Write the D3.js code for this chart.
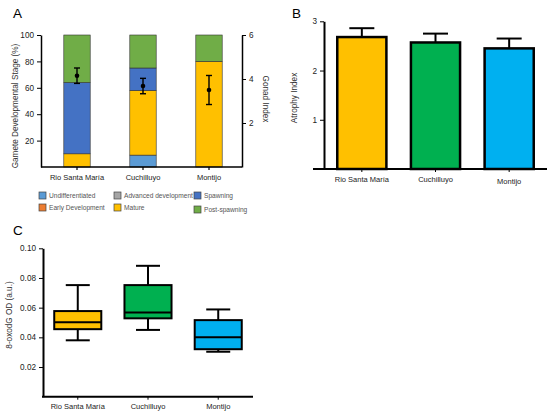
<!DOCTYPE html>
<html>
<head>
<meta charset="utf-8">
<script src="https://cdn.jsdelivr.net/npm/d3@7"></script>
<style>
  body { margin: 0; background: #fff; }
  svg { font-family: "Liberation Sans", Arial, sans-serif; }
</style>
</head>
<body>
<div id="main"></div>
<script>
// data
const sites = ["Rio Santa María", "Cuchilluyo", "Montijo"];

const stages = ["Undifferentiated", "Early Development", "Advanced development", "Mature", "Spawning", "Post-spawning"];
const stageColors = ["#5B9BD5", "#ED7D31", "#A5A5A5", "#FFC000", "#4472C4", "#70AD47"];
const undifferentiated = [0, 9, 0];
const earlyDev = [0, 0, 0];
const advancedDev = [0, 0, 0];
const mature = [10, 49, 80];
const spawning = [54, 17, 0];
const postSpawning = [36, 25, 20];

const gonadMean = [4.15, 3.68, 3.5];
const gonadErr = [0.35, 0.35, 0.66];

const atrophyMean = [2.68, 2.57, 2.45];
const atrophyErr = [0.18, 0.18, 0.2];
const siteColors = ["#FFC000", "#00B050", "#00B0F0"];

const oxoMin = [0.038, 0.045, 0.0303];
const oxoQ1 = [0.0455, 0.0528, 0.032];
const oxoMedian = [0.0501, 0.0568, 0.040];
const oxoQ3 = [0.0577, 0.0752, 0.0516];
const oxoMax = [0.0752, 0.0882, 0.0588];

const leftTicks = [20, 40, 60, 80, 100];
const gonadTicks = [2, 4, 6];
const atrophyTicks = [1, 2, 3];
const oxoTicks = [0.02, 0.04, 0.06, 0.08, 0.10];

const svg = d3.select("#main").append("svg")
  .attr("width", 550)
  .attr("height", 420);

function letter(t, x, y) {
  svg.append("text").attr("x", x).attr("y", y)
    .attr("font-size", 13.5).text(t);
}

// ---------- panel A ----------
letter("A", 13, 18);
const aX = d3.scaleBand().domain(sites).range([44, 242]).paddingInner(0.6).paddingOuter(0.3);
const aY = d3.scaleLinear().domain([0, 100]).range([167, 35]);
const aY2 = d3.scaleLinear().domain([0, 6]).range([167, 35]);

const stageValues = [undifferentiated, earlyDev, advancedDev, mature, spawning, postSpawning];
const rows = sites.map((s, i) => {
  const r = {site: s};
  stages.forEach((st, j) => r[st] = stageValues[j][i]);
  return r;
});
const stacked = d3.stack().keys(stages)(rows);

const gA = svg.append("g");
stacked.forEach((layer, j) => {
  gA.selectAll(null).data(layer).enter().append("rect")
    .filter(d => d[1] - d[0] > 0)
    .attr("x", d => aX(d.data.site))
    .attr("width", aX.bandwidth())
    .attr("y", d => aY(d[1]))
    .attr("height", d => aY(d[0]) - aY(d[1]))
    .attr("fill", stageColors[j])
    .attr("stroke", "#333")
    .attr("stroke-width", 0.6);
});

// gonad index error bars
sites.forEach((s, i) => {
  const cx = aX(s) + aX.bandwidth() / 2;
  const g = gA.append("g").attr("stroke", "#000").attr("stroke-width", 1.4);
  g.append("line").attr("x1", cx).attr("x2", cx)
    .attr("y1", aY2(gonadMean[i] + gonadErr[i])).attr("y2", aY2(gonadMean[i] - gonadErr[i]));
  [gonadMean[i] + gonadErr[i], gonadMean[i] - gonadErr[i]].forEach(v => {
    g.append("line").attr("x1", cx - 3).attr("x2", cx + 3)
      .attr("y1", aY2(v)).attr("y2", aY2(v));
  });
  gA.append("circle").attr("cx", cx).attr("cy", aY2(gonadMean[i])).attr("r", 2.3).attr("fill", "#000");
});

const aLeft = svg.append("g").attr("transform", "translate(41,0)")
  .call(d3.axisLeft(aY).tickValues(leftTicks).tickFormat(d3.format("d")).tickSize(4).tickSizeOuter(0));
const aRight = svg.append("g").attr("transform", "translate(242,0)")
  .call(d3.axisRight(aY2).tickValues(gonadTicks).tickFormat(d3.format("d")).tickSize(4).tickSizeOuter(0));
const aBottom = svg.append("g").attr("transform", "translate(0,167)")
  .call(d3.axisBottom(aX).tickSize(3).tickSizeOuter(0));
aBottom.select(".domain").remove();
aBottom.append("line").attr("x1", 41).attr("x2", 242).attr("stroke", "#000").attr("stroke-width", 1.5);
[aLeft, aRight].forEach(a => a.select(".domain").attr("stroke-width", 1.5));
aLeft.selectAll("text").attr("font-size", 8.2).attr("fill", "#222");
aRight.selectAll("text").attr("font-size", 8.2).attr("fill", "#222");
aBottom.selectAll("text").attr("font-size", 7.5).attr("fill", "#222").attr("dy", "0.9em");
aBottom.selectAll(".tick line").attr("stroke-width", 1.2);

svg.append("text").attr("transform", "translate(18,106) rotate(-90)")
  .attr("text-anchor", "middle").attr("font-size", 8.2).attr("fill", "#333")
  .text("Gamete Developmental Stage (%)");
svg.append("text").attr("transform", "translate(263,99) rotate(90)")
  .attr("text-anchor", "middle").attr("font-size", 8.2).attr("fill", "#333")
  .text("Gonad Index");

// legend
const legendPos = [[39, 192], [39, 204], [114, 192], [114, 204], [194, 192], [194, 206]];
stages.forEach((st, j) => {
  const [lx, ly] = legendPos[j];
  svg.append("rect").attr("x", lx).attr("y", ly).attr("width", 7).attr("height", 7)
    .attr("fill", stageColors[j]).attr("stroke", "#444").attr("stroke-width", 0.7);
  svg.append("text").attr("x", lx + 10).attr("y", ly + 6)
    .attr("font-size", 6.6).attr("fill", "#555").text(st);
});

// ---------- panel B ----------
letter("B", 292, 18);
const bX = d3.scaleBand().domain(sites).range([324, 547]).paddingInner(0.333).paddingOuter(0.18);
const bY = d3.scaleLinear().domain([0, 3]).range([169, 21.3]);
const gB = svg.append("g");
sites.forEach((s, i) => {
  const cx = bX(s) + bX.bandwidth() / 2;
  const top = bY(atrophyMean[i] + atrophyErr[i]);
  gB.append("line").attr("x1", cx).attr("x2", cx).attr("y1", bY(atrophyMean[i])).attr("y2", top)
    .attr("stroke", "#000").attr("stroke-width", 2);
  gB.append("line").attr("x1", cx - 12.5).attr("x2", cx + 12.5).attr("y1", top).attr("y2", top)
    .attr("stroke", "#000").attr("stroke-width", 2);
});
gB.selectAll("rect").data(sites).enter().append("rect")
  .attr("x", d => bX(d))
  .attr("width", bX.bandwidth())
  .attr("y", (d, i) => bY(atrophyMean[i]))
  .attr("height", (d, i) => bY(0) - bY(atrophyMean[i]))
  .attr("fill", (d, i) => siteColors[i])
  .attr("stroke", "#000")
  .attr("stroke-width", 2.5);

const bLeft = svg.append("g").attr("transform", "translate(324,0)")
  .call(d3.axisLeft(bY).tickValues(atrophyTicks).tickFormat(d3.format("d")).tickSize(4).tickSizeOuter(0));
const bBottom = svg.append("g").attr("transform", "translate(0,169)")
  .call(d3.axisBottom(bX).tickSize(3).tickSizeOuter(0));
bBottom.select(".domain").remove();
bBottom.append("line").attr("x1", 313).attr("x2", 547).attr("stroke", "#000").attr("stroke-width", 2);
bLeft.select(".domain").attr("stroke-width", 2);
bLeft.selectAll("text").attr("font-size", 8.2).attr("fill", "#222");
bBottom.selectAll("text").attr("font-size", 7.5).attr("fill", "#222").attr("dy", "0.9em");
bBottom.selectAll(".tick").filter(d => d === "Montijo").select("text").attr("dy", "1.2em");
svg.append("text").attr("transform", "translate(297,98) rotate(-90)")
  .attr("text-anchor", "middle").attr("font-size", 8.2).attr("fill", "#333")
  .text("Atrophy Index");

// ---------- panel C ----------
letter("C", 13, 235);
const cX = d3.scaleBand().domain(sites).range([43, 253]).paddingInner(0.33).paddingOuter(0.16);
const cY = d3.scaleLinear().domain([0, 0.10]).range([396.7, 248.3]);
const gC = svg.append("g").attr("stroke", "#000").attr("stroke-width", 2);
sites.forEach((s, i) => {
  const x0 = cX(s), w = cX.bandwidth(), cx = x0 + w / 2;
  gC.append("line").attr("x1", cx).attr("x2", cx).attr("y1", cY(oxoMax[i])).attr("y2", cY(oxoMin[i]));
  [oxoMax[i], oxoMin[i]].forEach(v => {
    gC.append("line").attr("x1", cx - 12).attr("x2", cx + 12).attr("y1", cY(v)).attr("y2", cY(v));
  });
  gC.append("rect").attr("x", x0).attr("width", w)
    .attr("y", cY(oxoQ3[i])).attr("height", cY(oxoQ1[i]) - cY(oxoQ3[i]))
    .attr("fill", siteColors[i]);
  gC.append("line").attr("x1", x0).attr("x2", x0 + w).attr("y1", cY(oxoMedian[i])).attr("y2", cY(oxoMedian[i]));
});
const cLeft = svg.append("g").attr("transform", "translate(43,0)")
  .call(d3.axisLeft(cY).tickValues(oxoTicks).tickFormat(d3.format(".2f")).tickSize(4).tickSizeOuter(0));
const cBottom = svg.append("g").attr("transform", "translate(0,396.7)")
  .call(d3.axisBottom(cX).tickSize(3).tickSizeOuter(0));
cBottom.select(".domain").remove();
cBottom.append("line").attr("x1", 42).attr("x2", 253).attr("stroke", "#000").attr("stroke-width", 2);
cLeft.select(".domain").attr("stroke-width", 2);
cLeft.selectAll("text").attr("font-size", 8.2).attr("fill", "#222");
cBottom.selectAll("text").attr("font-size", 7.5).attr("fill", "#222").attr("dy", "0.9em");
svg.append("text").attr("transform", "translate(12,315) rotate(-90)")
  .attr("text-anchor", "middle").attr("font-size", 8.2).attr("fill", "#333")
  .text("8-oxodG OD (a.u.)");
</script>
</body>
</html>
